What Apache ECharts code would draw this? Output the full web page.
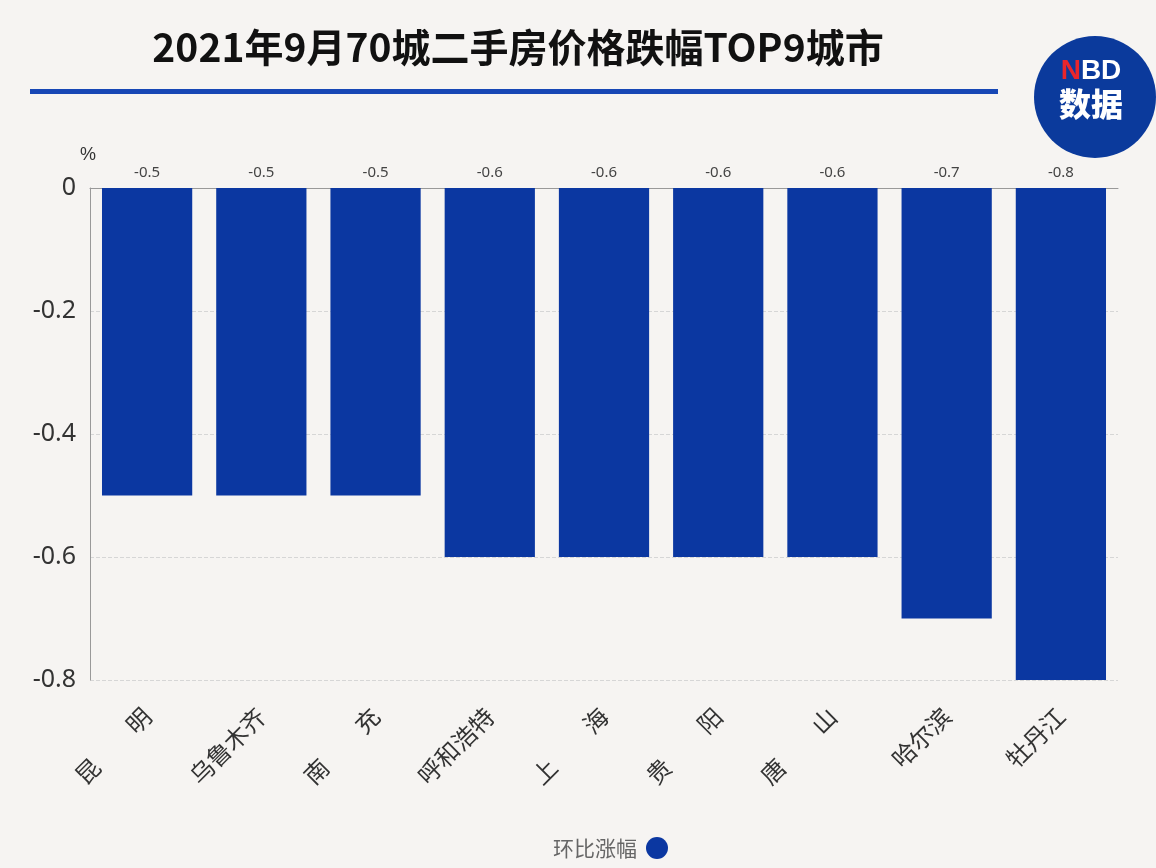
<!DOCTYPE html>
<html><head><meta charset="utf-8">
<script src="https://cdn.jsdelivr.net/npm/echarts@6/dist/echarts.min.js"></script>
<style>html,body{margin:0;padding:0;background:#f6f4f2;}#c{width:1156px;height:868px;}</style>
</head><body><div id="c"></div>
<script>
const titleText = '2021年9月70城二手房价格跌幅TOP9城市';
const categories = ['昆　　明','乌鲁木齐','南　　充','呼和浩特','上　　海','贵　　阳','唐　　山','哈尔滨','牡丹江'];
const seriesName = '环比涨幅';
const values = [-0.5,-0.5,-0.5,-0.6,-0.6,-0.6,-0.6,-0.7,-0.8];
const yTicks = {min:-0.8, max:0, interval:0.2};

const chart = echarts.init(document.getElementById('c'));
chart.setOption({
  backgroundColor:'#f6f4f2',
  animation:false,
  title:{text:titleText,left:513,top:23,textAlign:'center',
    textStyle:{fontSize:39,fontWeight:'bold',color:'#111',fontFamily:'Noto Sans CJK SC'}},
  graphic:[
    {type:'rect',shape:{x:30,y:89,width:968,height:5},style:{fill:'#1747b5'}},
    {type:'circle',shape:{cx:1095,cy:97,r:61},style:{fill:'#0b3a9c'}},
    {type:'text',style:{x:1091,y:71,text:'{n|N}{b|BD}',textAlign:'center',textVerticalAlign:'middle',
      rich:{n:{fill:'#e8262c',font:'bold 28px "Liberation Sans"'},b:{fill:'#ffffff',font:'bold 28px "Liberation Sans"'}}}},
    {type:'text',style:{x:1091,y:104,text:'数据',fill:'#ffffff',font:'900 32px "Noto Sans CJK SC"',textAlign:'center',textVerticalAlign:'middle'}}
  ],
  legend:{bottom:4,left:548,align:'right',icon:'circle',itemWidth:22,itemHeight:22,
    textStyle:{fontSize:21,color:'#666',fontFamily:'Noto Sans CJK SC',padding:[0,4,0,0]},data:[seriesName]},
  grid:{left:90,right:38,top:188,bottom:188,containLabel:false},
  xAxis:[
    {type:'category',data:categories,position:'bottom',
      axisLine:{show:false},axisTick:{show:false},
      axisLabel:{rotate:45,fontSize:24,color:'#333',margin:32,interval:0,fontFamily:'Noto Sans CJK SC'}},
    {type:'category',data:categories,position:'top',
      axisLine:{show:true,lineStyle:{color:'#999',width:1}},axisTick:{show:false},axisLabel:{show:false}}
  ],
  yAxis:{type:'value',min:yTicks.min,max:yTicks.max,interval:yTicks.interval,
    name:'%',nameLocation:'end',nameGap:24,nameTextStyle:{fontSize:18,color:'#333',align:'right',padding:[0,-6,0,0]},
    axisLine:{show:true,lineStyle:{color:'#999'}},axisTick:{show:false},
    axisLabel:{fontSize:25,color:'#333',margin:14,fontFamily:'Noto Sans',formatter:v=>v===0?'0':String(+v.toFixed(1))},
    splitLine:{show:true,lineStyle:{type:'dashed',color:'#d6d6d6'}}},
  series:[{type:'bar',name:seriesName,data:values,barWidth:'79%',
    itemStyle:{color:'#0b37a1'},
    label:{show:true,position:'top',distance:8,fontSize:15,color:'#444',fontFamily:'Noto Sans'}}]
});
</script></body></html>
